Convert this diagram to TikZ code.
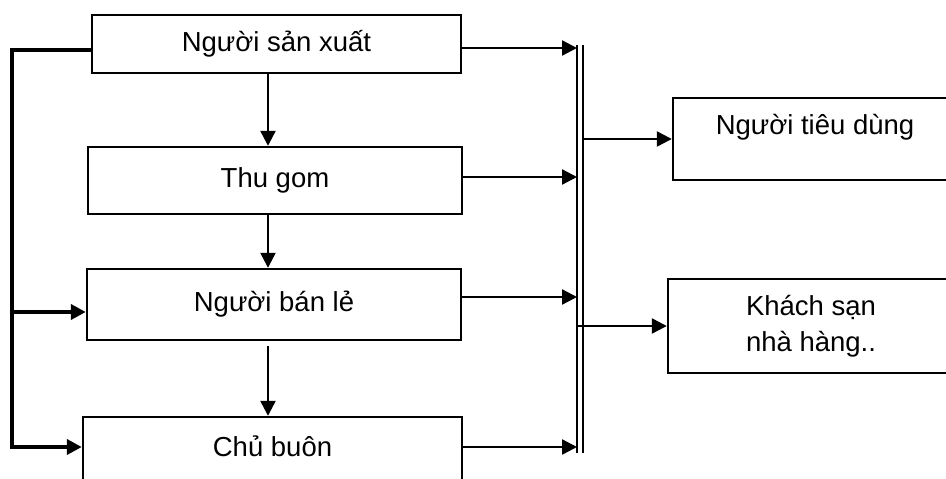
\documentclass[tikz,border=0pt]{standalone}
\usepackage{fontspec}
\setmainfont{Liberation Sans}
\usetikzlibrary{arrows.meta}
\begin{document}
\begin{tikzpicture}[x=1pt,y=-1pt,
  box/.style={draw,line width=2.4pt,rectangle,inner sep=0pt,align=center,font=\fontsize{27.5}{36}\selectfont},
  link/.style={line width=2.4pt,-{Triangle[length=15pt,width=15pt]}},
  buslink/.style={line width=4.5pt,-{Triangle[length=15pt,width=15pt]}},
  bar/.style={line width=2.6pt}]
\useasboundingbox (0,0) rectangle (946,479);
\clip (0,0) rectangle (946,479);

% chain of traders on the left
\node[box,minimum width=369pt,minimum height=58pt] (b1) at (276.5,44) {Người sản xuất};
\node[box,minimum width=374pt,minimum height=67pt] (b2) at (275,180.5) {Thu gom};
\node[box,minimum width=374pt,minimum height=71pt] (b3) at (274,304.5) {Người bán lẻ};
\node[box,minimum width=379pt,minimum height=86pt,text depth=28pt] (b4) at (272.5,460) {Chủ buôn};

% end buyers on the right
\node[box,minimum width=284pt,minimum height=82pt,text depth=30pt] (c1) at (815,139) {Người tiêu dùng};
\node[box,minimum width=286pt,minimum height=94pt] (c2) at (811,326) {Khách sạn\\nhà hàng..};

% collecting double bar
\coordinate (lt) at (577,45);
\coordinate (lb) at (577,453);
\coordinate (rt) at (583,45);
\coordinate (rb) at (583,453);
\draw[bar] (lt) -- (lb);
\draw[bar] (rt) -- (rb);

% downward flow
\draw[link] (b1.south -| 268,0) -- (b2.north -| 268,0);
\draw[link] (b2.south -| 268,0) -- (b3.north -| 268,0);
\draw[link] ([yshift=-5pt]b3.south -| 268,0) -- (b4.north -| 268,0);

% each trader feeds the bar
\draw[link] (b1.east |- 0,48) -- (lt |- 0,48);
\draw[link] (b2.east |- 0,177) -- (lt |- 0,177);
\draw[link] (b3.east |- 0,297) -- (lt |- 0,297);
\draw[link] (b4.east |- 0,447) -- (lt |- 0,447);

% bar to the buyers
\draw[link] (rt |- c1.west) -- (c1.west);
\draw[link] (lt |- c2.west) -- (c2.west);

% producer bypass on the left
\coordinate (bt) at (12,50);
\coordinate (bb) at (12,447);
\draw[line width=4.5pt] (b1.west |- bt) -- (bt) -- ([yshift=2pt]bb);
\draw[buslink] ([xshift=-2pt]bt |- 0,312) -- (b3.west |- 0,312);
\draw[buslink] ([xshift=-2pt]bb) -- (b4.west |- bb);
\end{tikzpicture}
\end{document}
